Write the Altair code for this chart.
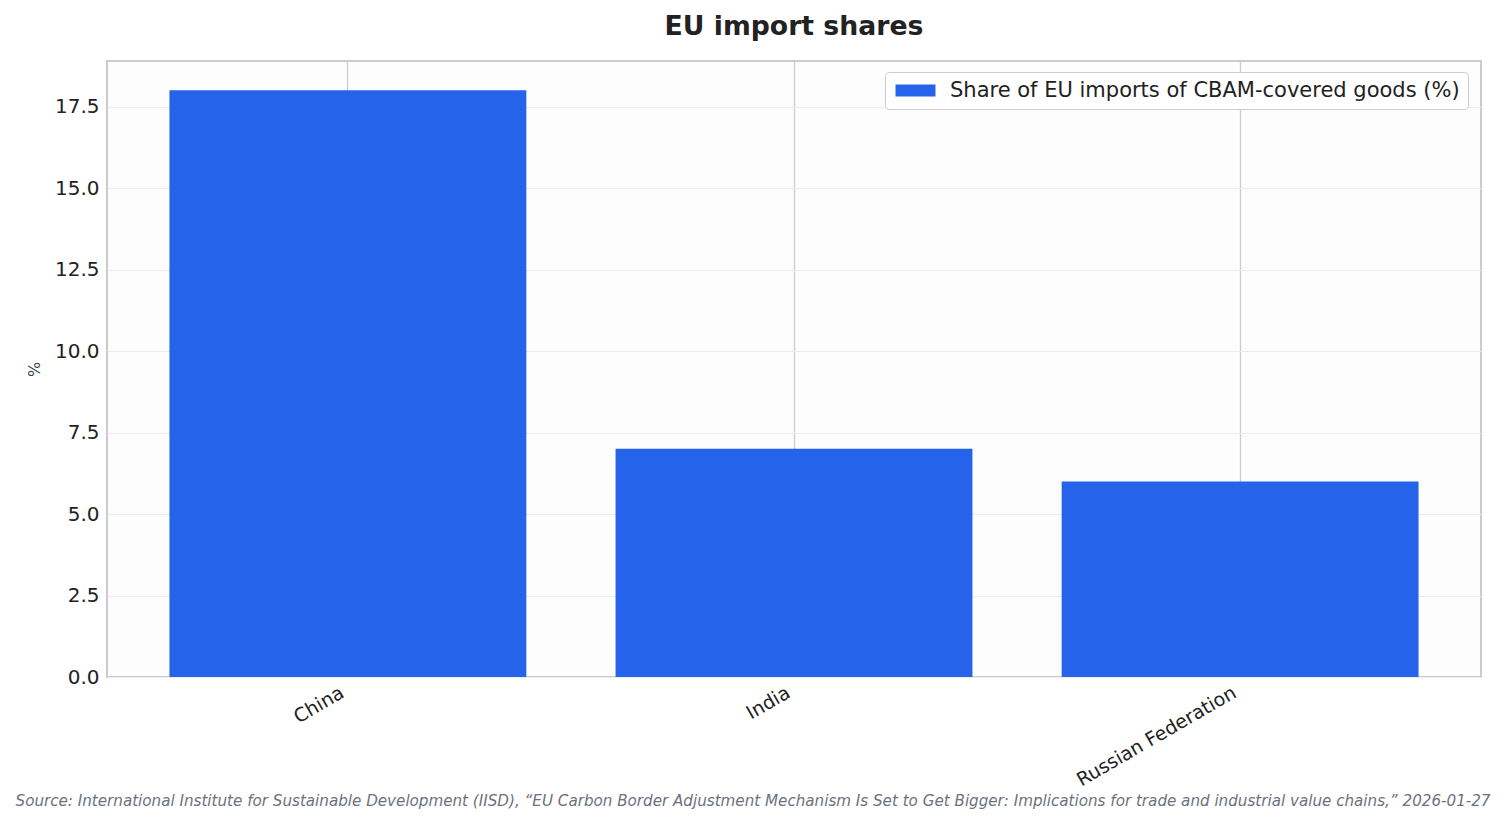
import altair as alt
import pandas as pd

# data
countries = ["China", "India", "Russian Federation"]
shares = [18.0, 7.0, 6.0]
series_name = "Share of EU imports of CBAM-covered goods (%)"
y_ticks = [0, 2.5, 5, 7.5, 10, 12.5, 15, 17.5]
chart_title = "EU import shares"
source_note = (
    "Source: International Institute for Sustainable Development (IISD), "
    "\u201cEU Carbon Border Adjustment Mechanism Is Set to Get Bigger: "
    "Implications for trade and industrial value chains,\u201d 2026-01-27"
)

font = "DejaVu Sans"

df = pd.DataFrame({"country": countries, "share": shares, "series": series_name})

bars = (
    alt.Chart(df)
    .mark_bar(color="#2563eb")
    .encode(
        x=alt.X(
            "country:N",
            sort=countries,
            title=None,
            scale=alt.Scale(paddingInner=0.2, paddingOuter=0.14),
            axis=alt.Axis(
                labelAngle=-30,
                labelAlign="right",
                labelBaseline="top",
                labelFontSize=19,
                labelColor="#222222",
                labelFont=font,
                labelPadding=6,
                labelOffset=-10,
                labelLimit=400,
                ticks=False,
                domain=False,
                grid=True,
                gridColor="#cccccc",
                gridWidth=1.3,
            ),
        ),
        y=alt.Y(
            "share:Q",
            title="%",
            scale=alt.Scale(domain=[0, 18.9], nice=False),
            axis=alt.Axis(
                values=y_ticks,
                format=".1f",
                labelFontSize=20,
                labelColor="#222222",
                labelFont=font,
                labelPadding=8,
                ticks=False,
                domain=False,
                gridColor="#ececec",
                titleFont=font,
                titleFontSize=16,
                titleFontWeight="normal",
                titleColor="#374151",
                titleX=-73,
                titleY=308,
                titleAlign="center",
                titleBaseline="middle",
            ),
        ),
        color=alt.Color(
            "series:N",
            scale=alt.Scale(range=["#2563eb"]),
            legend=alt.Legend(
                title=None,
                orient="none",
                legendX=778,
                legendY=11,
                padding=8,
                strokeColor="#cccccc",
                fillColor="#ffffff",
                cornerRadius=4,
                labelFont=font,
                labelFontSize=21,
                labelColor="#222222",
                labelLimit=700,
                labelOffset=24,
                symbolType="M-3.33,-1H3.33V1H-3.33Z",
                symbolSize=144,
                symbolOffset=12,
                symbolStrokeWidth=0,
            ),
        ),
        tooltip=["country", alt.Tooltip("share:Q", format=".1f")],
    )
)

title = (
    alt.Chart(pd.DataFrame({"t": [chart_title]}))
    .mark_text(
        font=font,
        fontSize=26.7,
        fontWeight="bold",
        color="#222222",
        align="center",
        baseline="alphabetic",
    )
    .encode(text="t:N", x=alt.value(687), y=alt.value(-26))
)

note = (
    alt.Chart(pd.DataFrame({"note": [source_note]}))
    .mark_text(
        font=font,
        fontSize=15.15,
        fontStyle="italic",
        color="#6b7280",
        align="center",
        baseline="alphabetic",
    )
    .encode(text="note:N", x=alt.value(646), y=alt.value(745))
)

chart = (
    alt.layer(bars, title, note)
    .properties(
        width=1374,
        height=616,
        autosize=alt.AutoSizeParams(type="none"),
        padding={"left": 99, "top": 53, "right": 18, "bottom": 138},
    )
    .configure_view(stroke="#cccccc", strokeWidth=2, fill="#fdfdfd")
)

chart.save("out.html", embed_options={"renderer": "svg", "actions": False})
